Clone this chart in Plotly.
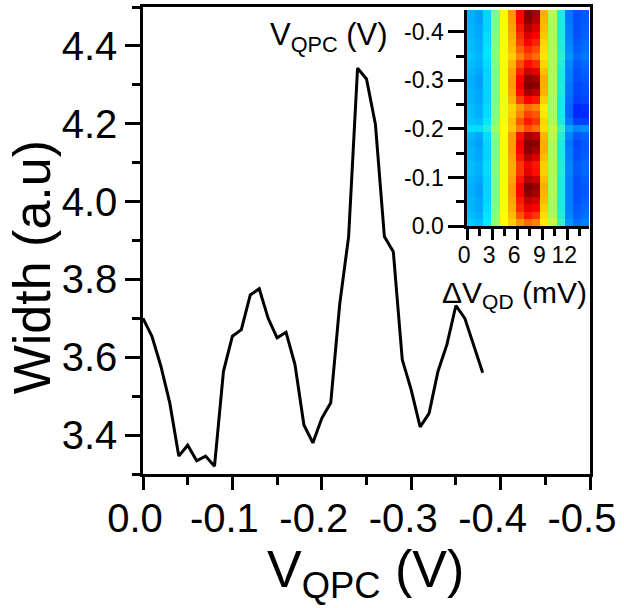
import plotly.graph_objects as go

# ---------------- data ----------------
v_qpc = [0.0, -0.01, -0.02, -0.03, -0.04, -0.05, -0.06, -0.07, -0.08, -0.09,
         -0.10, -0.11, -0.12, -0.13, -0.14, -0.15, -0.16, -0.17, -0.18, -0.19,
         -0.20, -0.21, -0.22, -0.23, -0.24, -0.25, -0.26, -0.27, -0.28, -0.29,
         -0.30, -0.31, -0.32, -0.33, -0.34, -0.35, -0.36, -0.37, -0.38]
width = [3.700, 3.654, 3.577, 3.482, 3.346, 3.374, 3.334, 3.346, 3.320, 3.564,
         3.654, 3.671, 3.760, 3.776, 3.700, 3.650, 3.664, 3.581, 3.426, 3.380,
         3.443, 3.483, 3.736, 3.910, 4.343, 4.315, 4.198, 3.910, 3.871, 3.594,
         3.516, 3.421, 3.456, 3.564, 3.633, 3.733, 3.700, 3.630, 3.560]

x_ticks = [0.0, -0.1, -0.2, -0.3, -0.4, -0.5]
x_ticktext = ["0.0", "-0.1", "-0.2", "-0.3", "-0.4", "-0.5"]
y_ticks = [3.4, 3.6, 3.8, 4.0, 4.2, 4.4]
y_ticktext = ["3.4", "3.6", "3.8", "4.0", "4.2", "4.4"]

# inset colour map (rows from V_QPC = 0 upward, columns dV_QD = 0 .. 14.6 mV)
inset_z = [
    [0.33, 0.31, 0.37, 0.52, 0.63, 0.69, 0.76, 0.80, 0.78, 0.65, 0.56, 0.42, 0.26, 0.21, 0.23],
    [0.31, 0.29, 0.36, 0.51, 0.63, 0.71, 0.82, 0.88, 0.85, 0.67, 0.54, 0.40, 0.24, 0.19, 0.21],
    [0.30, 0.28, 0.35, 0.50, 0.62, 0.73, 0.86, 0.92, 0.90, 0.69, 0.53, 0.39, 0.23, 0.18, 0.20],
    [0.30, 0.28, 0.34, 0.49, 0.62, 0.74, 0.88, 0.95, 0.93, 0.71, 0.53, 0.39, 0.23, 0.17, 0.19],
    [0.29, 0.27, 0.34, 0.49, 0.62, 0.75, 0.90, 0.99, 0.97, 0.72, 0.54, 0.39, 0.23, 0.17, 0.18],
    [0.29, 0.27, 0.34, 0.49, 0.62, 0.75, 0.90, 1.00, 0.98, 0.73, 0.54, 0.39, 0.23, 0.17, 0.18],
    [0.30, 0.28, 0.34, 0.49, 0.62, 0.74, 0.88, 0.96, 0.94, 0.71, 0.54, 0.39, 0.23, 0.17, 0.19],
    [0.31, 0.29, 0.35, 0.50, 0.62, 0.73, 0.85, 0.92, 0.89, 0.69, 0.54, 0.40, 0.24, 0.18, 0.20],
    [0.31, 0.29, 0.35, 0.50, 0.62, 0.73, 0.85, 0.91, 0.88, 0.69, 0.54, 0.40, 0.24, 0.18, 0.20],
    [0.30, 0.28, 0.34, 0.49, 0.62, 0.74, 0.88, 0.96, 0.93, 0.71, 0.54, 0.39, 0.23, 0.17, 0.19],
    [0.30, 0.28, 0.34, 0.49, 0.62, 0.75, 0.90, 0.99, 0.97, 0.73, 0.54, 0.39, 0.23, 0.17, 0.18],
    [0.29, 0.27, 0.34, 0.49, 0.62, 0.75, 0.91, 1.00, 0.99, 0.73, 0.54, 0.39, 0.22, 0.16, 0.18],
    [0.30, 0.28, 0.35, 0.50, 0.63, 0.75, 0.89, 0.97, 0.95, 0.72, 0.55, 0.40, 0.24, 0.18, 0.19],
    [0.35, 0.35, 0.40, 0.53, 0.63, 0.70, 0.78, 0.83, 0.80, 0.67, 0.56, 0.43, 0.28, 0.24, 0.25],
    [0.32, 0.31, 0.37, 0.51, 0.62, 0.71, 0.82, 0.88, 0.85, 0.68, 0.54, 0.39, 0.22, 0.15, 0.15],
    [0.31, 0.29, 0.35, 0.50, 0.61, 0.69, 0.78, 0.84, 0.82, 0.66, 0.53, 0.38, 0.20, 0.12, 0.12],
    [0.31, 0.29, 0.35, 0.50, 0.61, 0.68, 0.75, 0.80, 0.78, 0.65, 0.53, 0.38, 0.20, 0.12, 0.13],
    [0.30, 0.28, 0.34, 0.49, 0.61, 0.72, 0.84, 0.90, 0.88, 0.69, 0.53, 0.38, 0.21, 0.15, 0.16],
    [0.30, 0.28, 0.34, 0.49, 0.62, 0.74, 0.89, 0.97, 0.95, 0.72, 0.54, 0.39, 0.22, 0.16, 0.17],
    [0.29, 0.27, 0.34, 0.49, 0.62, 0.75, 0.91, 1.00, 0.99, 0.73, 0.54, 0.39, 0.22, 0.16, 0.17],
    [0.29, 0.27, 0.34, 0.49, 0.62, 0.75, 0.90, 0.99, 0.97, 0.73, 0.54, 0.39, 0.23, 0.17, 0.18],
    [0.30, 0.28, 0.34, 0.49, 0.62, 0.74, 0.87, 0.94, 0.92, 0.71, 0.54, 0.39, 0.23, 0.17, 0.19],
    [0.31, 0.29, 0.35, 0.50, 0.62, 0.72, 0.83, 0.89, 0.86, 0.68, 0.54, 0.40, 0.24, 0.18, 0.20],
    [0.32, 0.30, 0.36, 0.51, 0.62, 0.69, 0.78, 0.83, 0.80, 0.66, 0.54, 0.41, 0.26, 0.20, 0.22],
    [0.31, 0.29, 0.36, 0.51, 0.62, 0.71, 0.81, 0.86, 0.83, 0.67, 0.54, 0.40, 0.25, 0.19, 0.21],
    [0.31, 0.29, 0.35, 0.50, 0.62, 0.72, 0.84, 0.90, 0.87, 0.68, 0.54, 0.40, 0.24, 0.18, 0.20],
    [0.30, 0.28, 0.35, 0.50, 0.62, 0.73, 0.86, 0.93, 0.90, 0.70, 0.54, 0.39, 0.23, 0.17, 0.19],
    [0.30, 0.28, 0.34, 0.49, 0.62, 0.74, 0.88, 0.96, 0.93, 0.71, 0.54, 0.39, 0.23, 0.17, 0.19],
    [0.29, 0.27, 0.34, 0.49, 0.62, 0.75, 0.90, 0.99, 0.96, 0.72, 0.54, 0.39, 0.22, 0.17, 0.18],
    [0.29, 0.27, 0.34, 0.49, 0.64, 0.76, 0.90, 1.00, 0.97, 0.73, 0.55, 0.39, 0.22, 0.17, 0.18],
]
inset_x0, inset_dx = 0.4867, 0.9733      # mV, column centre / step
inset_y0, inset_dy = -0.00742, -0.01483  # V, row centre / step

inset_x_ticks = [0, 3, 6, 9, 12]
inset_y_ticks = [0.0, -0.1, -0.2, -0.3, -0.4]
inset_y_ticktext = ["0.0", "-0.1", "-0.2", "-0.3", "-0.4"]

# ---------------- figure ----------------
FONT = "Liberation Sans, Arial, sans-serif"
BLACK = "#000000"

colorscale = [
    [0.00, "rgb(0,0,170)"],
    [0.12, "rgb(0,40,255)"],
    [0.36, "rgb(0,230,255)"],
    [0.50, "rgb(130,255,130)"],
    [0.63, "rgb(255,255,0)"],
    [0.78, "rgb(255,130,0)"],
    [0.90, "rgb(255,0,0)"],
    [1.00, "rgb(128,0,0)"],
]

fig = go.Figure()
fig.add_trace(go.Scatter(x=v_qpc, y=width, mode="lines",
                         line=dict(color=BLACK, width=3), showlegend=False,
                         xaxis="x", yaxis="y"))
fig.add_trace(go.Heatmap(z=inset_z, x0=inset_x0, dx=inset_dx, y0=inset_y0, dy=inset_dy,
                         colorscale=colorscale, zmin=0, zmax=1, showscale=False,
                         zsmooth=False, xaxis="x2", yaxis="y2"))

axis_common = dict(showgrid=False, zeroline=False, showline=True, automargin=False,
                   linecolor=BLACK, linewidth=2.5, tickcolor=BLACK, tickwidth=2.5)

fig.update_layout(
    width=624, height=608,
    margin=dict(l=143, r=34, t=7, b=134, autoexpand=False),
    paper_bgcolor="white", plot_bgcolor="white",
    font=dict(family=FONT, color=BLACK),
    showlegend=False,
    xaxis=dict(**axis_common, domain=[0, 1], anchor="y", range=[0, -0.5],
               tickvals=x_ticks, ticktext=x_ticktext, ticks="outside", ticklen=13,
               tickfont=dict(size=40, family=FONT), mirror=True, ticklabelstandoff=-6,
               ticklabelshift=8, ticklabeloverflow="allow",
               minor=dict(dtick=0.05, ticks="outside", ticklen=8,
                          tickcolor=BLACK, tickwidth=2.5)),
    yaxis=dict(**axis_common, domain=[0, 1], anchor="x", range=[3.3, 4.5],
               tickvals=y_ticks, ticktext=y_ticktext, ticks="outside", ticklen=15,
               tickfont=dict(size=40, family=FONT), mirror=True,
               minor=dict(dtick=0.1, tick0=3.3, ticks="outside", ticklen=8,
                          tickcolor=BLACK, tickwidth=2.5)),
    yaxis3=dict(overlaying="y", anchor="x", side="right", range=[3.3, 4.5],
                tickvals=[3.4, 3.5, 3.6, 3.7, 3.8], ticks="inside", ticklen=4,
                tickwidth=2, tickcolor=BLACK, showticklabels=False, automargin=False,
                showgrid=False, zeroline=False, showline=False),
    xaxis2=dict(**axis_common, domain=[0.725, 0.998], anchor="y2", range=[0, 14.6],
                tickvals=inset_x_ticks, ticks="outside", ticklen=11,
                tickfont=dict(size=23, family=FONT), ticklabelstandoff=-4,
                ticklabelshift=-3,
                minor=dict(dtick=1.5, ticks="outside", ticklen=7,
                           tickcolor=BLACK, tickwidth=2.5)),
    yaxis2=dict(**axis_common, domain=[0.531, 0.9936], anchor="x2", range=[0, -0.445],
                tickvals=inset_y_ticks, ticktext=inset_y_ticktext, ticks="outside",
                ticklen=16, tickfont=dict(size=23, family=FONT),
                minor=dict(dtick=0.05, ticks="outside", ticklen=8,
                           tickcolor=BLACK, tickwidth=2.5)),
    yaxis4=dict(overlaying="y2", anchor="x2", side="right", range=[0, -0.445],
                tickvals=[0.0, -0.05, -0.1, -0.15, -0.2, -0.25, -0.3, -0.35, -0.4],
                ticks="inside", ticklen=4, tickwidth=2, tickcolor=BLACK, automargin=False,
                showticklabels=False, showgrid=False, zeroline=False, showline=False),
)

fig.add_annotation(text="Width (a.u)", textangle=-90, xref="paper", yref="paper",
                   x=-0.248, y=0.443, xanchor="center", yanchor="middle",
                   showarrow=False, font=dict(size=52, family=FONT, color=BLACK))
fig.add_annotation(text="V<sub>QPC</sub> (V)", xref="paper", yref="paper",
                   x=0.497, y=-0.212, xanchor="center", yanchor="middle",
                   showarrow=False, font=dict(size=52, family=FONT, color=BLACK))
fig.add_annotation(text="V<sub>QPC</sub> (V)", xref="paper", yref="paper",
                   x=0.5526, y=0.935, xanchor="right", yanchor="middle",
                   showarrow=False, font=dict(size=31, family=FONT, color=BLACK))
fig.add_annotation(text="ΔV<sub>QD</sub> (mV)", xref="paper", yref="paper",
                   x=0.830, y=0.385, xanchor="center", yanchor="middle",
                   showarrow=False, font=dict(size=30, family=FONT, color=BLACK))

fig.write_html("out.html")
